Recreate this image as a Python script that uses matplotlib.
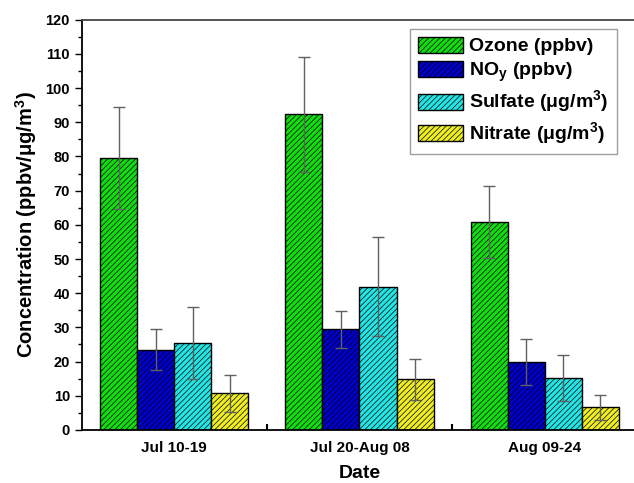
import numpy as np
import matplotlib
matplotlib.use("Agg")
import matplotlib.pyplot as plt
from matplotlib.patches import Patch
from matplotlib.ticker import MultipleLocator

plt.rcParams['font.family'] = ['Liberation Sans', 'DejaVu Sans']
plt.rcParams['font.weight'] = 'bold'
plt.rcParams['hatch.linewidth'] = 0.5
plt.rcParams['mathtext.fontset'] = 'custom'
plt.rcParams['mathtext.rm'] = 'Liberation Sans:bold'
plt.rcParams['mathtext.bf'] = 'Liberation Sans:bold'

# data
periods = ['Jul 10-19', 'Jul 20-Aug 08', 'Aug 09-24']
species = ['Ozone (ppbv)', r'NO$_\mathbf{y}$ (ppbv)',
           r'Sulfate ($\mathbf{\mu}$g/m$^\mathbf{3}$)',
           r'Nitrate ($\mathbf{\mu}$g/m$^\mathbf{3}$)']
ozone = [79.6, 92.3, 60.9]
ozone_err = [15.0, 16.8, 10.5]
noy = [23.4, 29.5, 19.8]
noy_err = [6.0, 5.4, 6.7]
sulfate = [25.4, 41.9, 15.2]
sulfate_err = [10.5, 14.5, 6.7]
nitrate = [10.7, 14.8, 6.6]
nitrate_err = [5.4, 6.0, 3.7]

colors = ['#11dd11', '#0000cc', '#22e5e5', '#eeee22']
hatch = '//////'

fig = plt.figure(figsize=(6.34, 4.83), dpi=100)
ax = fig.add_axes([0.129, 0.11, 0.876, 0.849])

x = np.arange(len(periods))
w = 0.2
series = [(ozone, ozone_err), (noy, noy_err), (sulfate, sulfate_err), (nitrate, nitrate_err)]
for i, (vals, errs) in enumerate(series):
    pos = x + (i - 1.5) * w
    ax.bar(pos, vals, width=w, color=colors[i], edgecolor='black', linewidth=1.0,
           hatch=hatch, zorder=2)
    ax.errorbar(pos, vals, yerr=errs, fmt='none', ecolor='#606060', elinewidth=1.0,
                capsize=4, capthick=1.0, zorder=3)

ax.set_xlim(-0.5, 2.5)
ax.set_ylim(0, 120)
ax.yaxis.set_major_locator(MultipleLocator(10))
ax.yaxis.set_minor_locator(MultipleLocator(5))
ax.tick_params(axis='y', which='major', direction='out', length=5, width=1, labelsize=10.5)
ax.tick_params(axis='y', which='minor', direction='out', length=3, width=1)

ax.set_xticks(x)
ax.set_xticklabels(periods, fontsize=11, fontweight='bold')
ax.set_xticks([0.5, 1.5], minor=True)
ax.tick_params(axis='x', which='major', length=0, pad=8)
ax.tick_params(axis='x', which='minor', direction='in', length=4, width=1.5)

for s in ['left', 'bottom']:
    ax.spines[s].set_linewidth(1.3)
ax.spines['top'].set_linewidth(1.3)
ax.spines['top'].set_color('#444444')
ax.spines['right'].set_visible(False)

ax.set_ylabel(r'Concentration (ppbv/$\mathbf{\mu}$g/m$^\mathbf{3}$)', fontsize=14.5,
              fontweight='bold', labelpad=5)
ax.set_xlabel('Date', fontsize=14, fontweight='bold', labelpad=7)

handles = [Patch(facecolor=colors[i], edgecolor='black', hatch=hatch) for i in range(4)]
leg = ax.legend(handles, species, loc='upper right', bbox_to_anchor=(0.963, 0.978),
                borderaxespad=0, frameon=True, fancybox=False, edgecolor='#888888',
                handlelength=2.3, handleheight=0.9, handletextpad=0.35, labelspacing=0.25,
                borderpad=0.4, prop={'weight': 'bold', 'size': 14})
leg.get_frame().set_linewidth(1.0)

fig.savefig('out.png', dpi=100)
